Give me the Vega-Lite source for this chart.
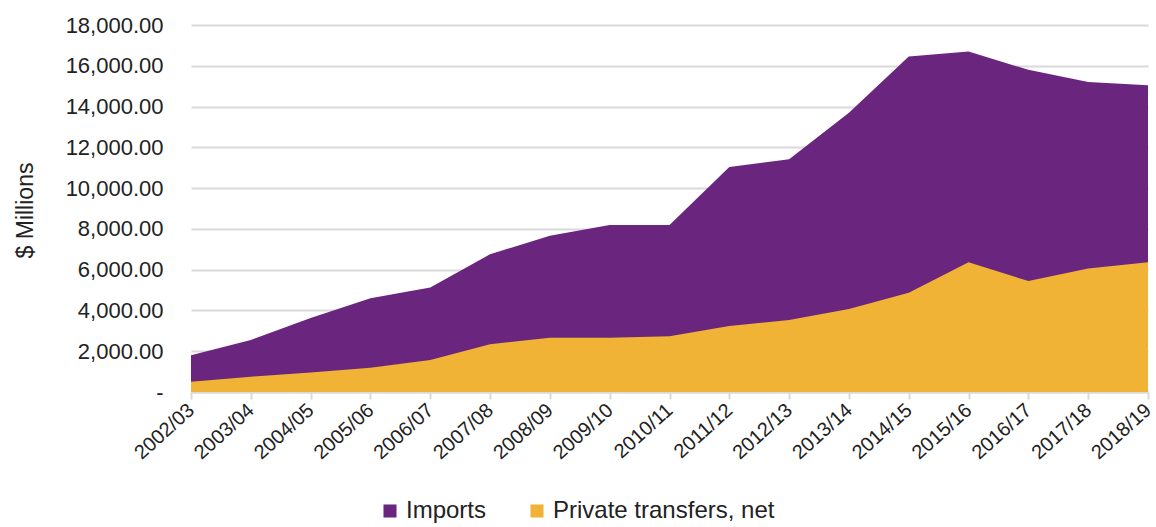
{
  "$schema": "https://vega.github.io/schema/vega-lite/v6.json",
  "autosize": "none",
  "width": 957,
  "height": 367,
  "padding": {"left": 191, "top": 25, "right": 8, "bottom": 135},
  "background": "white",
  "config": {
    "view": {"stroke": null},
    "font": "Liberation Sans"
  },
  "data": {
    "values": [
      {"year": "2002/03", "series": "Imports", "value": 1800},
      {"year": "2003/04", "series": "Imports", "value": 2550},
      {"year": "2004/05", "series": "Imports", "value": 3630},
      {"year": "2005/06", "series": "Imports", "value": 4600},
      {"year": "2006/07", "series": "Imports", "value": 5130},
      {"year": "2007/08", "series": "Imports", "value": 6760},
      {"year": "2008/09", "series": "Imports", "value": 7660},
      {"year": "2009/10", "series": "Imports", "value": 8190},
      {"year": "2010/11", "series": "Imports", "value": 8190},
      {"year": "2011/12", "series": "Imports", "value": 11030},
      {"year": "2012/13", "series": "Imports", "value": 11420},
      {"year": "2013/14", "series": "Imports", "value": 13700},
      {"year": "2014/15", "series": "Imports", "value": 16450},
      {"year": "2015/16", "series": "Imports", "value": 16700},
      {"year": "2016/17", "series": "Imports", "value": 15800},
      {"year": "2017/18", "series": "Imports", "value": 15200},
      {"year": "2018/19", "series": "Imports", "value": 15050},
      {"year": "2002/03", "series": "Private transfers, net", "value": 500},
      {"year": "2003/04", "series": "Private transfers, net", "value": 750},
      {"year": "2004/05", "series": "Private transfers, net", "value": 960},
      {"year": "2005/06", "series": "Private transfers, net", "value": 1190},
      {"year": "2006/07", "series": "Private transfers, net", "value": 1570},
      {"year": "2007/08", "series": "Private transfers, net", "value": 2340},
      {"year": "2008/09", "series": "Private transfers, net", "value": 2660},
      {"year": "2009/10", "series": "Private transfers, net", "value": 2660},
      {"year": "2010/11", "series": "Private transfers, net", "value": 2740},
      {"year": "2011/12", "series": "Private transfers, net", "value": 3240},
      {"year": "2012/13", "series": "Private transfers, net", "value": 3530},
      {"year": "2013/14", "series": "Private transfers, net", "value": 4070},
      {"year": "2014/15", "series": "Private transfers, net", "value": 4870},
      {"year": "2015/16", "series": "Private transfers, net", "value": 6360},
      {"year": "2016/17", "series": "Private transfers, net", "value": 5440},
      {"year": "2017/18", "series": "Private transfers, net", "value": 6060},
      {"year": "2018/19", "series": "Private transfers, net", "value": 6360}
    ]
  },
  "mark": {"type": "area", "opacity": 1},
  "encoding": {
    "x": {
      "field": "year",
      "type": "ordinal",
      "scale": {"type": "point", "padding": 0},
      "axis": {
        "title": null,
        "labelAngle": -42,
        "labelAlign": "right",
        "labelBaseline": "middle",
        "labelFontSize": 20,
        "labelColor": "#222222",
        "labelPadding": 8,
        "tickColor": "#d9d9d9",
        "tickSize": 7,
        "tickWidth": 2,
        "domainColor": "#d9d9d9",
        "domainWidth": 2,
        "grid": false
      }
    },
    "y": {
      "field": "value",
      "type": "quantitative",
      "stack": null,
      "scale": {"domain": [0, 18000], "nice": false},
      "axis": {
        "title": "$ Millions",
        "titleFontSize": 23,
        "titleFontWeight": "normal",
        "titleColor": "#222222",
        "titleX": -166,
        "titleY": 185,
        "titleAlign": "center",
        "titleBaseline": "middle",
        "titleAngle": -90,
        "values": [0, 2000, 4000, 6000, 8000, 10000, 12000, 14000, 16000, 18000],
        "labelExpr": "datum.value == 0 ? '-' : format(datum.value, ',.2f')",
        "labelFontSize": 22,
        "labelColor": "#222222",
        "labelPadding": 28,
        "ticks": false,
        "domain": false,
        "grid": true,
        "gridColor": "#d9d9d9",
        "gridWidth": 2
      }
    },
    "color": {
      "field": "series",
      "type": "nominal",
      "scale": {"domain": ["Imports", "Private transfers, net"], "range": ["#6a267e", "#f0b336"]},
      "legend": {
        "title": null,
        "orient": "none",
        "direction": "horizontal",
        "legendX": 187,
        "legendY": 474,
        "symbolType": "square",
        "symbolSize": 170,
        "symbolStrokeWidth": 0,
        "labelFontSize": 24,
        "labelColor": "#222222",
        "labelLimit": 0,
        "columnPadding": 38,
        "labelOffset": 4
      }
    }
  }
}
